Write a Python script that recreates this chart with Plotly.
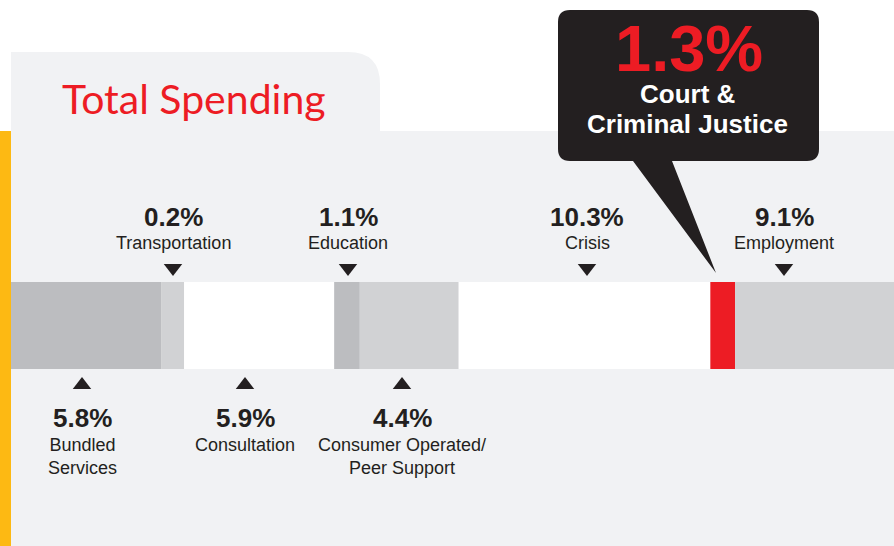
import numpy as np
import plotly.graph_objects as go

# drawn segment lengths (share of the visible strip, %)
segments = ["Bundled Services", "Transportation", "Consultation", "Education",
            "Consumer Operated/Peer Support", "Crisis", "Court & Criminal Justice", "Employment"]
seg_width = [17.0, 2.6, 17.0, 2.9, 11.2, 28.5, 2.8, 18.0]
seg_color = ["#bcbdc0", "#d1d2d4", "#ffffff", "#bcbdc0", "#d1d2d4", "#ffffff", "#ed1c24", "#d1d2d4"]

# labelled shares of total spending
top_pct = ["0.2%", "1.1%", "10.3%", "9.1%"]
top_name = ["Transportation", "Education", "Crisis", "Employment"]
top_x = [173, 348, 587, 784]

bottom_pct = ["5.8%", "5.9%", "4.4%"]
bottom_name = ["Bundled<br>Services", "Consultation", "Consumer Operated/<br>Peer Support"]
bottom_x = [82, 245, 402]

callout_pct = "1.3%"
callout_lines = ["Court &", "Criminal Justice"]

DARK = "#231f20"
RED = "#ed1c24"
PANEL = "#f1f2f4"
FONT = "Liberation Sans, Arial, sans-serif"

widths = np.array(seg_width)
starts = np.cumsum(widths) - widths

fig = go.Figure()

fig.add_trace(go.Bar(
    y=[325.5] * len(widths), x=widths, base=starts, orientation="h",
    width=87, marker=dict(color=seg_color, line=dict(width=0)),
    xaxis="x2", yaxis="y", hovertext=segments, hoverinfo="text", showlegend=False,
))

# pointer triangles
fig.add_trace(go.Scatter(
    x=top_x, y=[268] * len(top_x), mode="markers",
    marker=dict(symbol="triangle-down", size=16, color=DARK),
    hoverinfo="skip", showlegend=False,
))
fig.add_trace(go.Scatter(
    x=bottom_x, y=[385] * len(bottom_x), mode="markers",
    marker=dict(symbol="triangle-up", size=16, color=DARK),
    hoverinfo="skip", showlegend=False,
))

# background panel with tab, and yellow edge
fig.add_shape(type="path", xref="x", yref="y", layer="below",
              path="M 11,546 L 11,52 L 348,52 Q 380,52 380,84 L 380,131 L 894,131 L 894,546 Z",
              fillcolor=PANEL, line=dict(width=0))
fig.add_shape(type="rect", xref="x", yref="y", layer="below",
              x0=0, x1=11, y0=131, y1=546, fillcolor="#fdb913", line=dict(width=0))

# callout bubble
fig.add_shape(type="path", xref="x", yref="y", layer="above",
              path=("M 570,10 L 807,10 Q 819,10 819,22 L 819,149 Q 819,161 807,161 "
                    "L 672,161 L 716,273 L 633,161 L 570,161 Q 558,161 558,149 "
                    "L 558,22 Q 558,10 570,10 Z"),
              fillcolor=DARK, line=dict(width=0))

ann = []
ann.append(dict(x=60, y=98, text="Total Spending", xanchor="left", yanchor="middle",
                font=dict(family="Lato, sans-serif", size=41, color=RED)))
ann.append(dict(x=689, y=48, text="<b>%s</b>" % callout_pct, xanchor="center", yanchor="middle",
                font=dict(family=FONT, size=65, color=RED)))
for line, yy in zip(callout_lines, [94, 124]):
    ann.append(dict(x=687, y=yy, text="<b>%s</b>" % line, xanchor="center", yanchor="middle",
                    font=dict(family=FONT, size=26, color="#ffffff")))

for p, n, x in zip(top_pct, top_name, top_x):
    ann.append(dict(x=x, y=217, text="<b>%s</b>" % p, xanchor="center", yanchor="middle",
                    font=dict(family=FONT, size=26, color=DARK)))
    ann.append(dict(x=x, y=243, text=n, xanchor="center", yanchor="middle",
                    font=dict(family=FONT, size=18, color=DARK)))

for p, n, x in zip(bottom_pct, bottom_name, bottom_x):
    ann.append(dict(x=x, y=418, text="<b>%s</b>" % p, xanchor="center", yanchor="middle",
                    font=dict(family=FONT, size=26, color=DARK)))
    ann.append(dict(x=x, y=433, text=n, xanchor="center", yanchor="top",
                    font=dict(family=FONT, size=18, color=DARK)))

for a in ann:
    a.update(xref="x", yref="y", showarrow=False)

fig.update_layout(
    width=894, height=546,
    margin=dict(l=0, r=0, t=0, b=0),
    paper_bgcolor="#ffffff", plot_bgcolor="rgba(0,0,0,0)",
    barmode="overlay",
    xaxis=dict(range=[0, 894], domain=[0, 1], visible=False, fixedrange=True),
    xaxis2=dict(range=[0, 100], domain=[11 / 894, 1], anchor="y", visible=False, fixedrange=True),
    yaxis=dict(range=[546, 0], domain=[0, 1], visible=False, fixedrange=True),
    annotations=ann,
    showlegend=False,
)

# drop the browser's default page margin so the figure sits at the window's corner
fig.write_html("out.html", post_script="document.body.style.margin='0';",
               config={"displayModeBar": False})
